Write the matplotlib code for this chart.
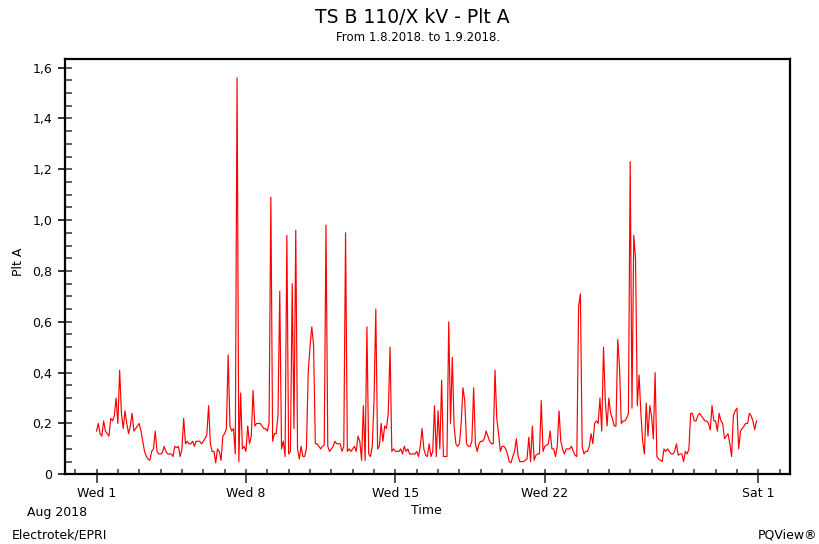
import numpy as np
import pandas as pd
import matplotlib
matplotlib.use("Agg")
import matplotlib.pyplot as plt
import matplotlib.dates as mdates
from matplotlib.ticker import FixedLocator, FuncFormatter, MultipleLocator

# ---- data: Plt A, 2-hour values, 1.8.2018 - 31.8.2018 (12 values per day) ----
day01 = [0.17, 0.20, 0.16, 0.15, 0.21, 0.17, 0.16, 0.15, 0.22, 0.21, 0.23, 0.30]
day02 = [0.20, 0.41, 0.24, 0.18, 0.25, 0.20, 0.16, 0.19, 0.24, 0.17, 0.18, 0.19]
day03 = [0.20, 0.17, 0.13, 0.09, 0.07, 0.06, 0.055, 0.09, 0.10, 0.17, 0.09, 0.08]
day04 = [0.08, 0.085, 0.11, 0.09, 0.08, 0.08, 0.08, 0.07, 0.11, 0.105, 0.11, 0.07]
day05 = [0.10, 0.22, 0.12, 0.13, 0.12, 0.12, 0.13, 0.11, 0.13, 0.13, 0.13, 0.12]
day06 = [0.13, 0.14, 0.155, 0.27, 0.12, 0.09, 0.09, 0.045, 0.10, 0.09, 0.055, 0.15]
day07 = [0.16, 0.18, 0.47, 0.19, 0.17, 0.18, 0.08, 1.56, 0.05, 0.32, 0.10, 0.11]
day08 = [0.09, 0.19, 0.12, 0.15, 0.33, 0.19, 0.20, 0.20, 0.20, 0.19, 0.18, 0.18]
day09 = [0.17, 0.20, 1.09, 0.13, 0.16, 0.16, 0.23, 0.72, 0.10, 0.13, 0.07, 0.94]
day10 = [0.08, 0.09, 0.75, 0.18, 0.96, 0.10, 0.06, 0.11, 0.07, 0.07, 0.10, 0.40]
day11 = [0.50, 0.58, 0.51, 0.12, 0.12, 0.11, 0.10, 0.11, 0.115, 0.98, 0.11, 0.09]
day12 = [0.10, 0.11, 0.13, 0.12, 0.12, 0.12, 0.09, 0.11, 0.95, 0.09, 0.10, 0.09]
day13 = [0.10, 0.11, 0.09, 0.15, 0.13, 0.055, 0.27, 0.055, 0.58, 0.08, 0.07, 0.11]
day14 = [0.29, 0.65, 0.10, 0.11, 0.20, 0.13, 0.19, 0.18, 0.24, 0.50, 0.09, 0.10]
day15 = [0.09, 0.09, 0.09, 0.10, 0.08, 0.11, 0.09, 0.10, 0.08, 0.08, 0.08, 0.08]
day16 = [0.09, 0.07, 0.11, 0.18, 0.10, 0.075, 0.07, 0.12, 0.07, 0.09, 0.27, 0.07]
day17 = [0.25, 0.10, 0.37, 0.07, 0.07, 0.07, 0.60, 0.20, 0.46, 0.19, 0.12, 0.11]
day18 = [0.12, 0.20, 0.34, 0.29, 0.12, 0.11, 0.11, 0.13, 0.34, 0.12, 0.09, 0.12]
day19 = [0.13, 0.13, 0.14, 0.17, 0.15, 0.13, 0.12, 0.12, 0.41, 0.22, 0.16, 0.09]
day20 = [0.11, 0.11, 0.10, 0.08, 0.05, 0.045, 0.07, 0.09, 0.14, 0.07, 0.05, 0.05]
day21 = [0.05, 0.055, 0.06, 0.146, 0.05, 0.19, 0.055, 0.075, 0.08, 0.08, 0.29, 0.09]
day22 = [0.11, 0.115, 0.12, 0.17, 0.10, 0.10, 0.07, 0.11, 0.25, 0.13, 0.10, 0.08]
day23 = [0.10, 0.10, 0.10, 0.11, 0.09, 0.075, 0.07, 0.66, 0.71, 0.11, 0.08, 0.09]
day24 = [0.09, 0.11, 0.16, 0.12, 0.20, 0.21, 0.20, 0.30, 0.17, 0.50, 0.29, 0.19]
day25 = [0.30, 0.24, 0.22, 0.19, 0.19, 0.53, 0.42, 0.20, 0.21, 0.21, 0.22, 0.24]
day26 = [1.23, 0.26, 0.94, 0.85, 0.27, 0.39, 0.24, 0.13, 0.08, 0.28, 0.15, 0.27]
day27 = [0.23, 0.14, 0.40, 0.07, 0.06, 0.055, 0.05, 0.10, 0.09, 0.10, 0.09, 0.08]
day28 = [0.08, 0.09, 0.12, 0.075, 0.08, 0.08, 0.05, 0.09, 0.08, 0.10, 0.24, 0.24]
day29 = [0.21, 0.21, 0.23, 0.24, 0.23, 0.22, 0.21, 0.21, 0.20, 0.175, 0.27, 0.21]
day30 = [0.21, 0.17, 0.24, 0.21, 0.20, 0.14, 0.15, 0.16, 0.12, 0.07, 0.23, 0.25]
day31 = [0.26, 0.10, 0.17, 0.18, 0.19, 0.20, 0.20, 0.24, 0.23, 0.21, 0.175, 0.21]

plt_a = (day01 + day02 + day03 + day04 + day05 + day06 + day07 + day08 + day09 + day10 +
         day11 + day12 + day13 + day14 + day15 + day16 + day17 + day18 + day19 + day20 +
         day21 + day22 + day23 + day24 + day25 + day26 + day27 + day28 + day29 + day30 + day31)
times = pd.date_range("2018-08-01 00:00", periods=len(plt_a), freq="2h")

major_dates = ["2018-08-01", "2018-08-08", "2018-08-15", "2018-08-22", "2018-09-01"]
major_labels = ["Wed 1", "Wed 8", "Wed 15", "Wed 22", "Sat 1"]
y_ticks = [0, 0.2, 0.4, 0.6, 0.8, 1.0, 1.2, 1.4, 1.6]

title = "TS B 110/X kV - Plt A"
subtitle = "From 1.8.2018. to 1.9.2018."

plt.rcParams["font.family"] = ["DejaVu Sans"]

fig = plt.figure(figsize=(8.19, 5.44), dpi=100)
ax = fig.add_axes([64.5 / 819, 1 - 474.3 / 544, (790 - 64.5) / 819, (474.3 - 58.7) / 544])

ax.plot(times, plt_a, color="#ff0000", lw=0.85)

ax.set_xlim(pd.Timestamp("2018-07-30 12:00"), pd.Timestamp("2018-09-02 11:40"))
ax.set_ylim(0, 1.635)

# x ticks
ax.xaxis.set_major_locator(FixedLocator(mdates.date2num(pd.to_datetime(major_dates))))
ax.set_xticklabels(major_labels)
ax.xaxis.set_minor_locator(mdates.DayLocator())
ax.xaxis.remove_overlapping_locs = False
ax.tick_params(axis="x", which="major", direction="out", length=6.5, width=1.2,
               pad=3, labelsize=9, color="#333333")
ax.tick_params(axis="x", which="minor", direction="in", length=3.8, width=1.2, color="#444444")

# y ticks
ax.set_yticks(y_ticks)
ax.yaxis.set_major_formatter(FuncFormatter(lambda v, p: "0" if abs(v) < 1e-9 else f"{v:.1f}".replace(".", ",")))
ax.yaxis.set_minor_locator(MultipleLocator(0.05))
ax.yaxis.remove_overlapping_locs = False
ax.tick_params(axis="y", which="major", direction="out", length=5.3, width=1.4,
               pad=3.5, labelsize=9, color="#333333")
ax.tick_params(axis="y", which="minor", direction="in", length=5.3, width=1.2, color="#444444")

for s in ax.spines.values():
    s.set_linewidth(1.6)
    s.set_color("black")

fig.text(0.504, 1 - 23.3 / 544, title, ha="center", va="baseline", fontsize=13.5)
fig.text(0.511, 1 - 41 / 544, subtitle, ha="center", va="baseline", fontsize=8.5)
fig.text(426 / 819, 1 - 511 / 544, "Time", ha="center", va="center", fontsize=9)
fig.text(18 / 819, 1 - 262 / 544, "Plt A", ha="center", va="center", rotation=90, fontsize=9)
fig.text(57 / 819, 1 - 516 / 544, "Aug 2018", ha="center", va="baseline", fontsize=9)
fig.text(12 / 819, 1 - 539 / 544, "Electrotek/EPRI", ha="left", va="baseline", fontsize=9)
fig.text(817 / 819, 1 - 539 / 544, "PQView®", ha="right", va="baseline", fontsize=9)

fig.savefig("out.png", dpi=100)
